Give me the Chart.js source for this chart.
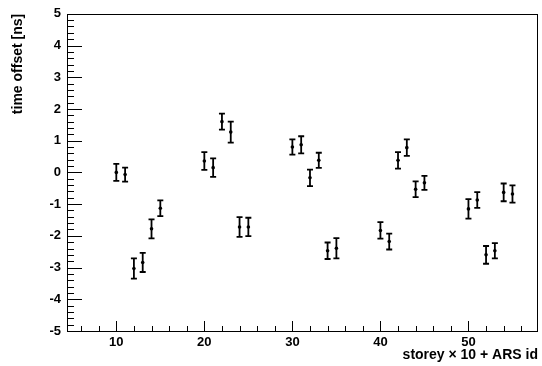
<!DOCTYPE html>
<html><head><meta charset="utf-8">
<script src="https://cdn.jsdelivr.net/npm/chart.js@4.4.1/dist/chart.umd.min.js"></script>
<style>html,body{margin:0;padding:0;background:#fff}#w{width:542px;height:366px;position:relative}</style>
</head><body><div id="w"><canvas id="c"></canvas></div>
<script>
const storeyIds   = [10,11,12,13,14,15, 20,21,22,23,24,25, 30,31,32,33,34,35, 40,41,42,43,44,45, 50,51,52,53,54,55];
const timeOffsets = [0.00,-0.07,-3.03,-2.84,-1.78,-1.13, 0.36,0.15,1.60,1.27,-1.72,-1.72, 0.80,0.87,-0.17,0.38,-2.47,-2.39, -1.83,-2.18,0.38,0.78,-0.53,-0.33, -1.15,-0.87,-2.60,-2.47,-0.63,-0.68];
const timeErrors  = [0.27,0.22,0.32,0.30,0.30,0.25, 0.28,0.29,0.25,0.33,0.31,0.29, 0.24,0.27,0.26,0.24,0.26,0.32, 0.26,0.25,0.26,0.26,0.25,0.22, 0.31,0.25,0.28,0.24,0.28,0.27];
const xTickLabels = [10,20,30,40,50];
const yTickLabels = [-5,-4,-3,-2,-1,0,1,2,3,4,5];
const xTitle = 'storey \u00d7 10 + ARS id';
const yTitle = 'time offset [ns]';

const FONT = '"Liberation Sans", Arial, Helvetica, sans-serif';

const frameAndBars = {
  id: 'frameAndBars',
  afterDatasetsDraw(chart) {
    const ctx = chart.ctx, xs = chart.scales.x, ys = chart.scales.y, a = chart.chartArea;
    ctx.save();
    ctx.strokeStyle = '#000';
    ctx.lineWidth = 1;
    ctx.strokeRect(Math.round(a.left) + 0.5, Math.round(a.top) + 0.5, Math.round(a.right - a.left) - 1, Math.round(a.bottom - a.top));
    ctx.beginPath();
    for (let i = 0; i <= 50; i++) {
      const v = -5 + i * 0.2;
      const y = Math.round(ys.getPixelForValue(v)) + 0.5;
      const len = (i % 5 === 0) ? 15 : 7;
      ctx.moveTo(a.left, y); ctx.lineTo(a.left + len, y);
    }
    for (let v = 6; v <= 56; v += 2) {
      const x = Math.round(xs.getPixelForValue(v)) + 0.5;
      const len = (v % 10 === 0) ? 10 : 5;
      ctx.moveTo(x, a.bottom); ctx.lineTo(x, a.bottom - len);
    }
    ctx.stroke();
    ctx.lineWidth = 1.8;
    ctx.beginPath();
    storeyIds.forEach((sx, i) => {
      const x = xs.getPixelForValue(sx);
      const yt = ys.getPixelForValue(timeOffsets[i] + timeErrors[i]);
      const yb = ys.getPixelForValue(timeOffsets[i] - timeErrors[i]);
      ctx.moveTo(x, yt); ctx.lineTo(x, yb);
      ctx.moveTo(x - 3, yt); ctx.lineTo(x + 3, yt);
      ctx.moveTo(x - 3, yb); ctx.lineTo(x + 3, yb);
    });
    ctx.stroke();
    ctx.restore();
  }
};

new Chart(document.getElementById('c'), {
  type: 'scatter',
  data: {
    datasets: [{
      data: storeyIds.map((x, i) => ({x: x, y: timeOffsets[i]})),
      pointRadius: 1.8,
      pointBackgroundColor: '#000',
      pointBorderColor: '#000',
      pointBorderWidth: 0,
      showLine: false
    }]
  },
  options: {
    responsive: true,
    maintainAspectRatio: false,
    animation: false,
    layout: {padding: {top: 11, right: 1, left: 0, bottom: 0}},
    plugins: {legend: {display: false}, tooltip: {enabled: false}},
    scales: {
      x: {
        type: 'linear', min: 4.4, max: 57.9,
        afterBuildTicks: s => { s.ticks = xTickLabels.map(v => ({value: v})); },
        afterFit: s => { s.height = 35; },
        grid: {display: false, drawTicks: false},
        border: {display: false},
        ticks: {color: '#000', font: {family: FONT, size: 13, weight: 'bold'}, padding: 4, maxRotation: 0, autoSkip: false},
        title: {display: true, text: xTitle, align: 'end', color: '#000', font: {family: FONT, size: 14, weight: 'bold'}, padding: {top: 0, bottom: 2}}
      },
      y: {
        type: 'linear', min: -5, max: 5,
        afterBuildTicks: s => { s.ticks = yTickLabels.map(v => ({value: v})); },
        afterFit: s => { s.width = 67; },
        grid: {display: false, drawTicks: false},
        border: {display: false},
        ticks: {color: '#000', font: {family: FONT, size: 13, weight: 'bold'}, padding: 6, autoSkip: false},
        title: {display: true, text: yTitle, align: 'end', color: '#000', font: {family: FONT, size: 14, weight: 'bold'}, padding: {top: 10, bottom: 0}}
      }
    }
  },
  plugins: [frameAndBars]
});
</script>
</body></html>
